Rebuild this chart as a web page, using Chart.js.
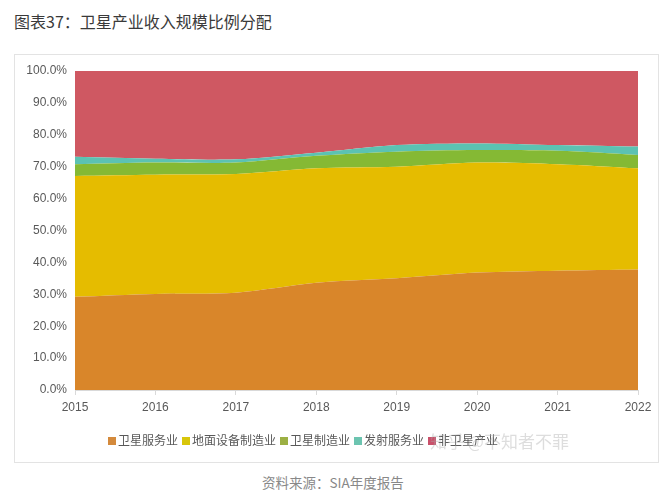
<!DOCTYPE html>
<html>
<head>
<meta charset="utf-8">
<title>卫星产业收入规模比例分配</title>
<script src="https://cdn.jsdelivr.net/npm/chart.js@4/dist/chart.umd.min.js"></script>
<style>
  body { margin: 0; background: #fff; font-family: "Noto Sans CJK SC", "Noto Sans", sans-serif; }
  #wrap { position: relative; width: 668px; height: 500px; }
  #title { position: absolute; left: 14px; top: 9px; font-size: 16px; color: #3a3a3a; font-weight: 400; }
  #box { position: absolute; left: 14px; top: 54px; width: 645px; height: 409px; border: 1px solid #e3e3e3; box-sizing: border-box; }
  #cv { position: absolute; left: 15px; top: 55px; }
  #legend { position: absolute; left: 108px; top: 431px; font-size: 12px; color: #595959; white-space: nowrap; }
  #legend span.item { margin-right: 4px; }
  #legend i { display: inline-block; width: 8px; height: 8px; margin-right: 2px; vertical-align: 0px; }
  #wm { position: absolute; left: 430px; top: 428px; font-size: 17px; color: rgba(170,170,170,0.4); }
  #source { position: absolute; left: 262px; top: 472px; font-size: 13.5px; color: #888; }
</style>
</head>
<body>
<div id="wrap">
  <div id="title">图表37：卫星产业收入规模比例分配</div>
  <div id="box"></div>
  <canvas id="cv" width="645" height="408"></canvas>
  <div id="legend"></div>
  <div id="wm">知乎 @不知者不罪</div>
  <div id="source">资料来源：SIA年度报告</div>
</div>
<script>
const years = ['2015', '2016', '2017', '2018', '2019', '2020', '2021', '2022'];
const satService = [29.2, 30.1, 30.5, 33.6, 35.0, 36.8, 37.4, 37.8];
const groundEquip = [37.9, 37.4, 37.2, 35.9, 35.0, 34.5, 33.4, 31.7];
const satManuf = [3.7, 3.8, 3.6, 3.9, 4.7, 3.9, 4.2, 4.2];
const launch = [2.3, 1.2, 1.0, 1.0, 2.1, 2.1, 1.8, 2.6];
const nonSat = [26.9, 27.5, 27.7, 25.6, 23.2, 22.7, 23.2, 23.7];

const seriesNames = ['卫星服务业', '地面设备制造业', '卫星制造业', '发射服务业', '非卫星产业'];
const fills = ['#D9862A', '#E5BC00', '#85B934', '#5CC2B2', '#CF5862'];
const legendColors = ['#D48A3C', '#D8C60A', '#9CB044', '#6CC4B0', '#C9506A'];
const seriesData = [satService, groundEquip, satManuf, launch, nonSat];

const datasets = seriesData.map((d, i) => ({
  label: seriesNames[i],
  data: d,
  backgroundColor: fills[i],
  borderColor: fills[i],
  borderWidth: 0,
  pointRadius: 0,
  tension: 0.3,
  fill: i === 0 ? 'origin' : '-1'
}));

// html legend
const lg = document.getElementById('legend');
seriesNames.forEach((n, i) => {
  const s = document.createElement('span');
  s.className = 'item';
  s.innerHTML = '<i style="background:' + legendColors[i] + '"></i>' + n;
  lg.appendChild(s);
});

new Chart(document.getElementById('cv'), {
  type: 'line',
  data: { labels: years, datasets: datasets },
  options: {
    responsive: false,
    animation: false,
    layout: { padding: { left: 0, right: 22, top: 16, bottom: 48 } },
    plugins: { legend: { display: false }, tooltip: { enabled: false } },
    scales: {
      x: {
        offset: false,
        grid: { display: true, drawOnChartArea: false, drawTicks: true, tickLength: 5, color: '#d9d9d9' },
        border: { display: true, color: '#d9d9d9' },
        ticks: { color: '#595959', font: { size: 12, family: 'Liberation Sans' }, padding: 5, maxRotation: 0 },
        afterFit: s => { s.height = 25; }
      },
      y: {
        stacked: true,
        min: 0,
        max: 100,
        grid: { display: false, drawTicks: false },
        border: { display: false },
        ticks: {
          stepSize: 10,
          color: '#595959',
          padding: 8,
          font: { size: 12, family: 'Liberation Sans' },
          callback: v => v.toFixed(1) + '%'
        },
        afterFit: s => { s.width = 60; }
      }
    }
  }
});
</script>
</body>
</html>
